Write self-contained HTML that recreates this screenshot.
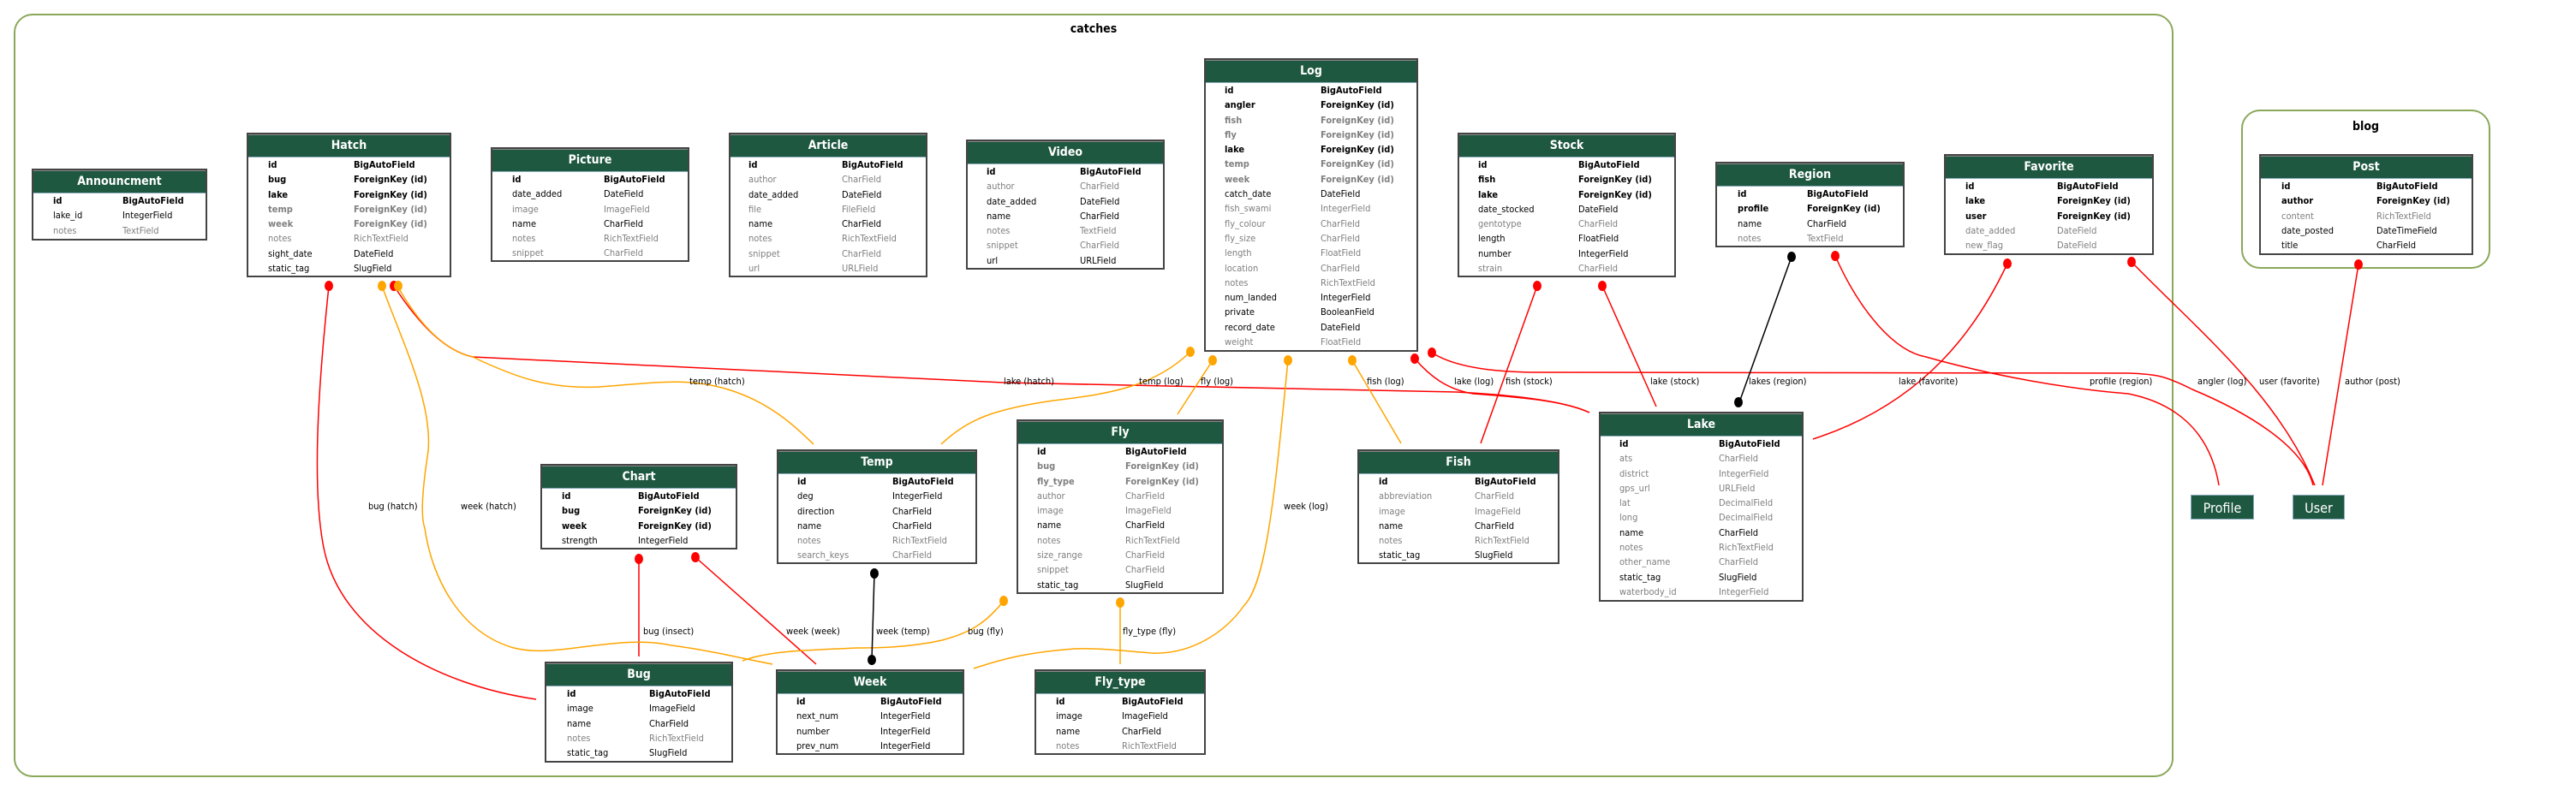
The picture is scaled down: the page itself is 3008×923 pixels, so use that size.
<!DOCTYPE html>
<html><head><meta charset="utf-8"><style>
body{margin:0;width:3008px;height:923px;background:#fff;position:relative;overflow:hidden;font-family:"DejaVu Sans Condensed","DejaVu Sans","Liberation Sans",sans-serif;font-stretch:condensed}
.cl{position:absolute;border:2px solid #8aa85a;border-radius:22px;box-sizing:border-box}
.cl div{position:absolute;top:10px;width:100%;text-align:center;font-size:14px;font-weight:bold;color:#000}
.t{position:absolute;border:2px solid #444;background:#fff;box-sizing:border-box}
.h{background:#1e5840;color:#fff;height:25px;line-height:25px;text-align:center;font-size:14px;font-weight:bold;border-bottom:1px solid #8ab;border-top:1px solid #888}
.r{height:17.3px;line-height:17.3px;position:relative;font-size:11px;color:#000;white-space:nowrap}
.r span{position:absolute}
.r span:first-child{left:var(--a)}
.r span:last-child{left:var(--b)}
.b{font-weight:bold}.g{color:#7f7f7f}
.n{position:absolute;background:#1e5840;color:#fff;font-size:16px;text-align:center;line-height:29px;height:29px;border:1px solid #8ab;box-sizing:border-box}
svg{position:absolute;left:0;top:0}
svg text{font-family:"DejaVu Sans Condensed","DejaVu Sans","Liberation Sans",sans-serif;font-size:11px;font-stretch:condensed;fill:#000}
</style></head><body>
<div class="cl" style="left:16px;top:16px;width:2522px;height:892px"><div style="left:0;top:8px">catches</div></div>
<div class="cl" style="left:2617px;top:128px;width:291px;height:186px"><div>blog</div></div>

<div class="t" style="left:37px;top:197px;width:205px;height:84px;--a:23px;--b:104px"><div class="h">Announcment</div>
<div class="r b"><span>id</span><span>BigAutoField</span></div>
<div class="r"><span>lake_id</span><span>IntegerField</span></div>
<div class="r g"><span>notes</span><span>TextField</span></div></div>

<div class="t" style="left:288px;top:155px;width:239px;height:169px;--a:23px;--b:123px"><div class="h">Hatch</div>
<div class="r b"><span>id</span><span>BigAutoField</span></div>
<div class="r b"><span>bug</span><span>ForeignKey (id)</span></div>
<div class="r b"><span>lake</span><span>ForeignKey (id)</span></div>
<div class="r b g"><span>temp</span><span>ForeignKey (id)</span></div>
<div class="r b g"><span>week</span><span>ForeignKey (id)</span></div>
<div class="r g"><span>notes</span><span>RichTextField</span></div>
<div class="r"><span>sight_date</span><span>DateField</span></div>
<div class="r"><span>static_tag</span><span>SlugField</span></div></div>

<div class="t" style="left:573px;top:172px;width:232px;height:134px;--a:23px;--b:130px"><div class="h">Picture</div>
<div class="r b"><span>id</span><span>BigAutoField</span></div>
<div class="r"><span>date_added</span><span>DateField</span></div>
<div class="r g"><span>image</span><span>ImageField</span></div>
<div class="r"><span>name</span><span>CharField</span></div>
<div class="r g"><span>notes</span><span>RichTextField</span></div>
<div class="r g"><span>snippet</span><span>CharField</span></div></div>

<div class="t" style="left:851px;top:155px;width:232px;height:169px;--a:21px;--b:130px"><div class="h">Article</div>
<div class="r b"><span>id</span><span>BigAutoField</span></div>
<div class="r g"><span>author</span><span>CharField</span></div>
<div class="r"><span>date_added</span><span>DateField</span></div>
<div class="r g"><span>file</span><span>FileField</span></div>
<div class="r"><span>name</span><span>CharField</span></div>
<div class="r g"><span>notes</span><span>RichTextField</span></div>
<div class="r g"><span>snippet</span><span>CharField</span></div>
<div class="r g"><span>url</span><span>URLField</span></div></div>

<div class="t" style="left:1128px;top:163px;width:232px;height:152px;--a:22px;--b:131px"><div class="h">Video</div>
<div class="r b"><span>id</span><span>BigAutoField</span></div>
<div class="r g"><span>author</span><span>CharField</span></div>
<div class="r"><span>date_added</span><span>DateField</span></div>
<div class="r"><span>name</span><span>CharField</span></div>
<div class="r g"><span>notes</span><span>TextField</span></div>
<div class="r g"><span>snippet</span><span>CharField</span></div>
<div class="r"><span>url</span><span>URLField</span></div></div>

<div class="t" style="left:1406px;top:68px;width:250px;height:343px;--a:22px;--b:134px"><div class="h">Log</div>
<div class="r b"><span>id</span><span>BigAutoField</span></div>
<div class="r b"><span>angler</span><span>ForeignKey (id)</span></div>
<div class="r b g"><span>fish</span><span>ForeignKey (id)</span></div>
<div class="r b g"><span>fly</span><span>ForeignKey (id)</span></div>
<div class="r b"><span>lake</span><span>ForeignKey (id)</span></div>
<div class="r b g"><span>temp</span><span>ForeignKey (id)</span></div>
<div class="r b g"><span>week</span><span>ForeignKey (id)</span></div>
<div class="r"><span>catch_date</span><span>DateField</span></div>
<div class="r g"><span>fish_swami</span><span>IntegerField</span></div>
<div class="r g"><span>fly_colour</span><span>CharField</span></div>
<div class="r g"><span>fly_size</span><span>CharField</span></div>
<div class="r g"><span>length</span><span>FloatField</span></div>
<div class="r g"><span>location</span><span>CharField</span></div>
<div class="r g"><span>notes</span><span>RichTextField</span></div>
<div class="r"><span>num_landed</span><span>IntegerField</span></div>
<div class="r"><span>private</span><span>BooleanField</span></div>
<div class="r"><span>record_date</span><span>DateField</span></div>
<div class="r g"><span>weight</span><span>FloatField</span></div></div>

<div class="t" style="left:1702px;top:155px;width:255px;height:169px;--a:22px;--b:139px"><div class="h">Stock</div>
<div class="r b"><span>id</span><span>BigAutoField</span></div>
<div class="r b"><span>fish</span><span>ForeignKey (id)</span></div>
<div class="r b"><span>lake</span><span>ForeignKey (id)</span></div>
<div class="r"><span>date_stocked</span><span>DateField</span></div>
<div class="r g"><span>gentotype</span><span>CharField</span></div>
<div class="r"><span>length</span><span>FloatField</span></div>
<div class="r"><span>number</span><span>IntegerField</span></div>
<div class="r g"><span>strain</span><span>CharField</span></div></div>

<div class="t" style="left:2003px;top:189px;width:221px;height:100px;--a:24px;--b:105px"><div class="h">Region</div>
<div class="r b"><span>id</span><span>BigAutoField</span></div>
<div class="r b"><span>profile</span><span>ForeignKey (id)</span></div>
<div class="r"><span>name</span><span>CharField</span></div>
<div class="r g"><span>notes</span><span>TextField</span></div></div>

<div class="t" style="left:2270px;top:180px;width:245px;height:118px;--a:23px;--b:130px"><div class="h">Favorite</div>
<div class="r b"><span>id</span><span>BigAutoField</span></div>
<div class="r b"><span>lake</span><span>ForeignKey (id)</span></div>
<div class="r b"><span>user</span><span>ForeignKey (id)</span></div>
<div class="r g"><span>date_added</span><span>DateField</span></div>
<div class="r g"><span>new_flag</span><span>DateField</span></div></div>

<div class="t" style="left:2638px;top:180px;width:250px;height:118px;--a:24px;--b:135px"><div class="h">Post</div>
<div class="r b"><span>id</span><span>BigAutoField</span></div>
<div class="r b"><span>author</span><span>ForeignKey (id)</span></div>
<div class="r g"><span>content</span><span>RichTextField</span></div>
<div class="r"><span>date_posted</span><span>DateTimeField</span></div>
<div class="r"><span>title</span><span>CharField</span></div></div>

<div class="t" style="left:631px;top:542px;width:230px;height:100px;--a:23px;--b:112px"><div class="h">Chart</div>
<div class="r b"><span>id</span><span>BigAutoField</span></div>
<div class="r b"><span>bug</span><span>ForeignKey (id)</span></div>
<div class="r b"><span>week</span><span>ForeignKey (id)</span></div>
<div class="r"><span>strength</span><span>IntegerField</span></div></div>

<div class="t" style="left:636px;top:773px;width:220px;height:118px;--a:24px;--b:120px"><div class="h">Bug</div>
<div class="r b"><span>id</span><span>BigAutoField</span></div>
<div class="r"><span>image</span><span>ImageField</span></div>
<div class="r"><span>name</span><span>CharField</span></div>
<div class="r g"><span>notes</span><span>RichTextField</span></div>
<div class="r"><span>static_tag</span><span>SlugField</span></div></div>

<div class="t" style="left:907px;top:525px;width:234px;height:134px;--a:22px;--b:133px"><div class="h">Temp</div>
<div class="r b"><span>id</span><span>BigAutoField</span></div>
<div class="r"><span>deg</span><span>IntegerField</span></div>
<div class="r"><span>direction</span><span>CharField</span></div>
<div class="r"><span>name</span><span>CharField</span></div>
<div class="r g"><span>notes</span><span>RichTextField</span></div>
<div class="r g"><span>search_keys</span><span>CharField</span></div></div>

<div class="t" style="left:906px;top:782px;width:220px;height:100px;--a:22px;--b:120px"><div class="h">Week</div>
<div class="r b"><span>id</span><span>BigAutoField</span></div>
<div class="r"><span>next_num</span><span>IntegerField</span></div>
<div class="r"><span>number</span><span>IntegerField</span></div>
<div class="r"><span>prev_num</span><span>IntegerField</span></div></div>

<div class="t" style="left:1187px;top:490px;width:242px;height:204px;--a:22px;--b:125px"><div class="h">Fly</div>
<div class="r b"><span>id</span><span>BigAutoField</span></div>
<div class="r b g"><span>bug</span><span>ForeignKey (id)</span></div>
<div class="r b g"><span>fly_type</span><span>ForeignKey (id)</span></div>
<div class="r g"><span>author</span><span>CharField</span></div>
<div class="r g"><span>image</span><span>ImageField</span></div>
<div class="r"><span>name</span><span>CharField</span></div>
<div class="r g"><span>notes</span><span>RichTextField</span></div>
<div class="r g"><span>size_range</span><span>CharField</span></div>
<div class="r g"><span>snippet</span><span>CharField</span></div>
<div class="r"><span>static_tag</span><span>SlugField</span></div></div>

<div class="t" style="left:1208px;top:782px;width:200px;height:100px;--a:23px;--b:100px"><div class="h">Fly_type</div>
<div class="r b"><span>id</span><span>BigAutoField</span></div>
<div class="r"><span>image</span><span>ImageField</span></div>
<div class="r"><span>name</span><span>CharField</span></div>
<div class="r g"><span>notes</span><span>RichTextField</span></div></div>

<div class="t" style="left:1585px;top:525px;width:236px;height:134px;--a:23px;--b:135px"><div class="h">Fish</div>
<div class="r b"><span>id</span><span>BigAutoField</span></div>
<div class="r g"><span>abbreviation</span><span>CharField</span></div>
<div class="r g"><span>image</span><span>ImageField</span></div>
<div class="r"><span>name</span><span>CharField</span></div>
<div class="r g"><span>notes</span><span>RichTextField</span></div>
<div class="r"><span>static_tag</span><span>SlugField</span></div></div>

<div class="t" style="left:1867px;top:481px;width:239px;height:222px;--a:22px;--b:138px"><div class="h">Lake</div>
<div class="r b"><span>id</span><span>BigAutoField</span></div>
<div class="r g"><span>ats</span><span>CharField</span></div>
<div class="r g"><span>district</span><span>IntegerField</span></div>
<div class="r g"><span>gps_url</span><span>URLField</span></div>
<div class="r g"><span>lat</span><span>DecimalField</span></div>
<div class="r g"><span>long</span><span>DecimalField</span></div>
<div class="r"><span>name</span><span>CharField</span></div>
<div class="r g"><span>notes</span><span>RichTextField</span></div>
<div class="r g"><span>other_name</span><span>CharField</span></div>
<div class="r"><span>static_tag</span><span>SlugField</span></div>
<div class="r g"><span>waterbody_id</span><span>IntegerField</span></div></div>

<div class="n" style="left:2558px;top:578px;width:74px">Profile</div>
<div class="n" style="left:2677px;top:578px;width:61px">User</div>

<svg width="3008" height="923" viewBox="0 0 3008 923">
<g fill="none" stroke-width="1.5">
<g stroke="#f00">
<path d="M384,334 C375,420 362,560 378,640 C398,740 510,800 626,817"/>
<path d="M460,334 C490,380 520,410 552,417 L1172,447 L1700,458 C1780,462 1830,470 1856,482"/>
<path d="M1652,419 C1670,440 1690,455 1720,460 C1790,465 1830,470 1856,482"/>
<path d="M1672,412 C1700,430 1750,435 1797,435 L2485,436 C2520,437 2530,440 2560,455 C2620,480 2690,520 2701,567"/>
<path d="M1795,334 L1729,518"/>
<path d="M1871,334 L1934,475"/>
<path d="M2344,308 C2310,380 2250,470 2117,513"/>
<path d="M2143,299 C2170,360 2210,410 2249,417 C2330,440 2420,455 2485,460 C2536,470 2580,500 2591,567"/>
<path d="M2489,306 C2560,380 2660,460 2703,567"/>
<path d="M2754,309 L2712,567"/>
<path d="M746,653 L746,767"/>
<path d="M812,651 L953,776"/>
</g>
<g stroke="#ffa500">
<path d="M446,334 C470,400 505,470 500,527 C495,560 490,600 496,617 C505,680 540,740 600,757 C650,770 720,740 784,754 C830,760 870,770 902,776"/>
<path d="M464,334 C490,380 520,410 552,417 C600,440 640,455 700,452 C760,448 800,440 850,455 C900,470 930,500 950,519"/>
<path d="M1390,411 C1350,450 1300,460 1230,468 C1160,478 1130,490 1099,519"/>
<path d="M1416,421 L1375,484"/>
<path d="M1504,421 C1490,560 1480,680 1453,707 C1430,740 1390,765 1344,763 C1310,760 1280,757 1255,758 C1200,762 1170,770 1137,781"/>
<path d="M1579,421 L1636,518"/>
<path d="M1172,702 C1150,730 1130,740 1100,748 C1060,757 1020,757 1000,757 C940,760 900,760 867,772"/>
<path d="M1308,704 L1308,776"/>
</g>
<g stroke="#000"><path d="M2092,300 L2031,470"/><path d="M1021,670 L1018,771"/></g>
</g>
<g fill="#f00">
<ellipse cx="384" cy="334" rx="5" ry="6"/><ellipse cx="460" cy="334" rx="5" ry="6"/>
<ellipse cx="1652" cy="419" rx="5" ry="6"/><ellipse cx="1672" cy="412" rx="5" ry="6"/>
<ellipse cx="1795" cy="334" rx="5" ry="6"/><ellipse cx="1871" cy="334" rx="5" ry="6"/>
<ellipse cx="2143" cy="299" rx="5" ry="6"/><ellipse cx="2344" cy="308" rx="5" ry="6"/>
<ellipse cx="2489" cy="306" rx="5" ry="6"/><ellipse cx="2754" cy="309" rx="5" ry="6"/>
<ellipse cx="746" cy="653" rx="5" ry="6"/><ellipse cx="812" cy="651" rx="5" ry="6"/>
</g>
<g fill="#ffa500">
<ellipse cx="446" cy="334" rx="5" ry="6"/><ellipse cx="465" cy="334" rx="5" ry="6"/>
<ellipse cx="1390" cy="411" rx="5" ry="6"/><ellipse cx="1416" cy="421" rx="5" ry="6"/>
<ellipse cx="1504" cy="421" rx="5" ry="6"/><ellipse cx="1579" cy="421" rx="5" ry="6"/>
<ellipse cx="1172" cy="702" rx="5" ry="6"/><ellipse cx="1308" cy="704" rx="5" ry="6"/>
</g>
<g fill="#000">
<ellipse cx="2092" cy="300" rx="5" ry="6"/><ellipse cx="2030" cy="470" rx="5" ry="6"/>
<ellipse cx="1021" cy="670" rx="5" ry="6"/><ellipse cx="1018" cy="771" rx="5" ry="6"/>
</g>
<g>
<text x="430" y="595">bug (hatch)</text>
<text x="538" y="595">week (hatch)</text>
<text x="805" y="449">temp (hatch)</text>
<text x="1172" y="449">lake (hatch)</text>
<text x="1330" y="449">temp (log)</text>
<text x="1402" y="449">fly (log)</text>
<text x="1499" y="595">week (log)</text>
<text x="1596" y="449">fish (log)</text>
<text x="1698" y="449">lake (log)</text>
<text x="1758" y="449">fish (stock)</text>
<text x="1927" y="449">lake (stock)</text>
<text x="2042" y="449">lakes (region)</text>
<text x="2217" y="449">lake (favorite)</text>
<text x="2440" y="449">profile (region)</text>
<text x="2566" y="449">angler (log)</text>
<text x="2638" y="449">user (favorite)</text>
<text x="2738" y="449">author (post)</text>
<text x="751" y="741">bug (insect)</text>
<text x="918" y="741">week (week)</text>
<text x="1023" y="741">week (temp)</text>
<text x="1130" y="741">bug (fly)</text>
<text x="1311" y="741">fly_type (fly)</text>
</g>
</svg>
</body></html>
